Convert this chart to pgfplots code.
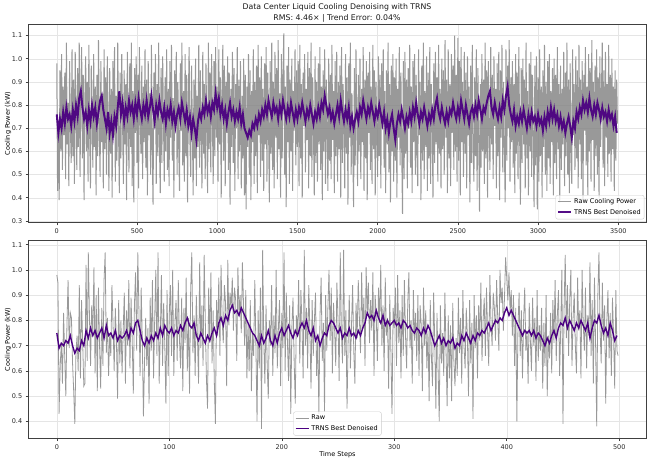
\documentclass[border=0pt]{standalone}
\usepackage{pgfplots}
\pgfplotsset{compat=1.18}
\usepackage{pgfplotstable}
\usepackage{fontspec}
\setmainfont{DejaVu Sans}
\definecolor{indigo}{HTML}{4B0082}
\definecolor{mgray}{HTML}{808080}

% top raw, every 5 steps from 0
\pgfplotstableread[header=false,row sep=\\]{
0.98\\0.43\\0.71\\0.39\\0.95\\0.60\\1.02\\0.52\\0.88\\0.67\\
0.94\\0.48\\1.07\\0.63\\0.81\\0.45\\0.99\\0.70\\0.55\\1.04\\
0.58\\0.91\\0.46\\1.03\\0.74\\0.52\\0.96\\0.62\\1.07\\0.49\\
0.86\\1.05\\0.57\\0.93\\0.39\\0.82\\1.01\\0.60\\0.90\\0.47\\
1.06\\0.68\\0.44\\0.97\\0.75\\0.53\\1.02\\0.62\\0.88\\0.41\\
0.93\\0.58\\1.08\\0.70\\0.49\\0.99\\0.64\\0.85\\0.44\\1.04\\
0.61\\0.92\\0.50\\1.01\\0.73\\0.43\\0.96\\0.59\\0.87\\0.40\\
0.99\\0.66\\1.05\\0.47\\0.84\\0.56\\1.07\\0.69\\0.42\\0.94\\
0.57\\1.02\\0.74\\0.46\\0.95\\0.63\\0.89\\0.39\\1.03\\0.70\\
0.51\\0.98\\0.62\\1.07\\0.45\\0.86\\0.38\\0.96\\0.68\\1.01\\
0.55\\0.93\\0.44\\1.05\\0.72\\0.59\\0.97\\0.48\\0.88\\0.64\\
1.04\\0.53\\0.91\\0.41\\0.99\\0.67\\0.85\\0.50\\1.06\\0.61\\
0.37\\0.94\\0.70\\1.02\\0.46\\0.89\\0.58\\1.07\\0.63\\0.42\\
0.96\\0.55\\1.01\\0.74\\0.47\\0.92\\0.60\\1.04\\0.52\\0.87\\
0.45\\0.99\\0.66\\1.06\\0.56\\0.83\\0.40\\0.95\\0.71\\1.03\\
0.50\\0.90\\0.62\\0.43\\0.98\\0.69\\1.07\\0.54\\0.86\\0.47\\
1.02\\0.58\\0.93\\0.38\\0.81\\1.05\\0.64\\0.49\\0.97\\0.72\\
0.41\\0.91\\0.57\\1.00\\0.45\\0.84\\0.62\\1.06\\0.53\\0.95\\
0.67\\0.44\\1.03\\0.59\\0.89\\0.48\\0.98\\0.70\\0.42\\1.07\\
0.61\\0.94\\0.51\\1.02\\0.75\\0.46\\0.99\\0.58\\1.05\\0.66\\
0.88\\0.47\\1.04\\0.63\\0.92\\0.40\\0.85\\1.06\\0.56\\0.97\\
0.45\\0.90\\0.68\\1.01\\0.52\\0.94\\0.37\\0.87\\0.62\\1.03\\
0.55\\0.96\\0.43\\0.89\\0.70\\1.05\\0.48\\0.91\\0.60\\0.99\\
0.44\\0.84\\0.57\\1.00\\0.41\\0.93\\0.35\\0.88\\0.62\\1.02\\
0.50\\0.95\\0.39\\0.86\\0.64\\1.04\\0.46\\0.90\\0.58\\0.97\\
0.42\\1.06\\0.67\\0.92\\0.49\\1.01\\0.56\\0.87\\0.43\\0.98\\
0.63\\1.05\\0.47\\0.94\\0.71\\0.38\\0.99\\0.59\\1.07\\0.52\\
0.90\\0.44\\1.03\\0.66\\0.96\\0.48\\1.08\\0.61\\0.85\\0.40\\
1.02\\0.57\\0.93\\1.11\\0.50\\0.88\\0.36\\0.97\\0.64\\1.05\\
0.46\\0.91\\0.60\\1.00\\0.43\\0.86\\0.69\\1.04\\0.54\\0.95\\
0.62\\0.99\\0.45\\1.06\\0.57\\0.89\\0.40\\0.94\\0.71\\1.02\\
0.51\\0.87\\0.65\\1.03\\0.44\\0.96\\0.58\\1.07\\0.49\\0.92\\
0.68\\0.41\\1.01\\0.55\\0.90\\0.47\\0.98\\0.63\\1.05\\0.52\\
0.88\\0.39\\0.95\\0.60\\1.04\\0.46\\0.91\\0.70\\0.43\\1.00\\
0.56\\0.93\\0.48\\1.06\\0.65\\0.86\\0.42\\0.99\\0.58\\1.03\\
0.47\\0.90\\0.61\\0.97\\0.40\\1.05\\0.55\\0.89\\0.69\\0.44\\
1.02\\0.59\\0.92\\0.37\\0.98\\0.66\\1.07\\0.50\\0.85\\0.62\\
0.36\\0.96\\0.54\\1.04\\0.72\\0.45\\0.93\\0.60\\1.00\\0.48\\
0.87\\0.64\\1.05\\0.43\\0.91\\0.57\\0.99\\0.39\\0.94\\0.68\\
1.03\\0.52\\0.88\\0.46\\1.06\\0.61\\0.95\\0.41\\0.90\\0.66\\
0.49\\1.01\\0.58\\0.93\\0.44\\0.98\\0.70\\1.04\\0.53\\0.86\\
0.42\\0.95\\0.63\\1.07\\0.51\\0.89\\0.38\\0.97\\0.60\\1.02\\
0.47\\0.92\\0.56\\1.00\\0.40\\0.87\\0.66\\1.05\\0.54\\0.94\\
0.61\\0.33\\0.99\\0.48\\1.03\\0.59\\0.91\\0.44\\0.96\\0.70\\
1.06\\0.53\\0.88\\0.42\\0.99\\0.64\\1.02\\0.50\\0.93\\0.58\\
0.45\\1.04\\0.67\\0.90\\0.39\\0.97\\0.56\\1.07\\0.48\\0.86\\
0.62\\1.01\\0.43\\0.94\\0.57\\1.05\\0.46\\0.89\\0.71\\0.40\\
0.98\\0.55\\1.03\\0.63\\0.92\\0.47\\1.06\\0.59\\0.87\\0.44\\
1.00\\0.61\\0.95\\0.50\\1.08\\0.66\\0.91\\0.42\\1.04\\0.57\\
0.89\\0.45\\1.02\\0.68\\0.97\\0.52\\1.10\\0.60\\0.93\\0.47\\
1.09\\0.56\\0.99\\0.41\\1.05\\0.64\\0.90\\0.49\\1.03\\0.59\\
0.94\\0.44\\1.01\\0.67\\0.88\\0.38\\0.97\\0.55\\1.06\\0.62\\
0.47\\0.92\\0.58\\1.04\\0.43\\0.96\\0.65\\0.34\\0.89\\0.53\\
1.02\\0.60\\0.91\\0.46\\1.07\\0.57\\0.95\\0.40\\0.99\\0.69\\
0.52\\1.05\\0.63\\0.93\\0.48\\1.01\\0.71\\0.87\\0.44\\0.98\\
0.58\\1.03\\0.39\\0.95\\0.66\\1.06\\0.51\\0.90\\0.62\\0.38\\
1.04\\0.56\\0.97\\0.70\\1.08\\0.47\\0.92\\0.64\\0.99\\0.53\\
0.89\\0.42\\1.02\\0.59\\0.94\\0.48\\1.05\\0.67\\0.37\\0.96\\
0.55\\1.00\\0.63\\0.91\\0.44\\1.07\\0.57\\0.86\\0.41\\0.98\\
0.60\\1.03\\0.49\\0.93\\0.66\\0.36\\0.97\\0.54\\1.01\\0.35\\
0.92\\0.47\\1.04\\0.58\\0.88\\0.40\\0.95\\0.62\\1.06\\0.50\\
0.90\\0.43\\0.99\\0.57\\1.02\\0.46\\0.86\\0.64\\0.96\\0.41\\
1.00\\0.55\\0.93\\0.48\\1.05\\0.61\\0.89\\0.38\\0.97\\0.52\\
0.87\\0.63\\1.03\\0.45\\0.94\\0.58\\1.07\\0.50\\0.91\\0.42\\
0.98\\0.60\\0.46\\1.04\\0.67\\0.89\\0.52\\1.01\\0.57\\0.95\\
0.44\\1.06\\0.63\\0.91\\0.48\\0.99\\0.39\\0.93\\0.69\\1.05\\
0.54\\0.88\\0.41\\1.02\\0.60\\0.96\\0.47\\1.08\\0.65\\0.90\\
0.43\\0.97\\0.58\\1.04\\0.50\\0.92\\0.40\\1.01\\0.62\\0.86\\
1.07\\0.53\\0.95\\0.45\\1.03\\0.66\\0.89\\0.49\\1.06\\0.59\\
0.93\\0.47\\1.00\\0.61\\0.88\\0.43\\0.95\\0.56\\0.91\\0.72\\
}\rawtop

% top denoised, every 10 steps from 0
\pgfplotstableread[header=false,row sep=\\]{
0.76\\0.68\\0.74\\0.70\\0.77\\0.72\\0.79\\0.74\\0.76\\0.71\\
0.78\\0.73\\0.80\\0.75\\0.83\\0.86\\0.79\\0.74\\0.77\\0.71\\
0.78\\0.73\\0.80\\0.75\\0.79\\0.72\\0.77\\0.82\\0.84\\0.78\\
0.74\\0.70\\0.77\\0.68\\0.73\\0.67\\0.75\\0.71\\0.79\\0.86\\
0.76\\0.81\\0.73\\0.79\\0.75\\0.82\\0.77\\0.80\\0.74\\0.81\\
0.76\\0.83\\0.78\\0.74\\0.80\\0.76\\0.82\\0.75\\0.79\\0.84\\
0.78\\0.73\\0.80\\0.76\\0.82\\0.77\\0.74\\0.79\\0.72\\0.78\\
0.75\\0.80\\0.73\\0.77\\0.71\\0.76\\0.79\\0.74\\0.81\\0.77\\
0.73\\0.78\\0.71\\0.75\\0.68\\0.74\\0.70\\0.65\\0.73\\0.77\\
0.74\\0.79\\0.76\\0.82\\0.77\\0.80\\0.75\\0.81\\0.78\\0.85\\
0.79\\0.83\\0.76\\0.80\\0.74\\0.78\\0.72\\0.77\\0.81\\0.75\\
0.78\\0.73\\0.77\\0.74\\0.79\\0.72\\0.76\\0.70\\0.68\\0.66\\
0.69\\0.67\\0.72\\0.70\\0.74\\0.71\\0.76\\0.73\\0.78\\0.75\\
0.80\\0.76\\0.82\\0.78\\0.75\\0.81\\0.77\\0.79\\0.74\\0.80\\
0.76\\0.82\\0.78\\0.74\\0.79\\0.75\\0.81\\0.77\\0.73\\0.78\\
0.74\\0.79\\0.76\\0.81\\0.77\\0.73\\0.78\\0.75\\0.80\\0.76\\
0.72\\0.77\\0.74\\0.79\\0.75\\0.81\\0.78\\0.84\\0.80\\0.76\\
0.79\\0.74\\0.77\\0.72\\0.76\\0.80\\0.75\\0.82\\0.77\\0.73\\
0.78\\0.74\\0.79\\0.71\\0.75\\0.70\\0.74\\0.77\\0.73\\0.79\\
0.76\\0.82\\0.78\\0.74\\0.79\\0.76\\0.81\\0.77\\0.73\\0.78\\
0.75\\0.80\\0.76\\0.72\\0.77\\0.70\\0.74\\0.68\\0.73\\0.76\\
0.70\\0.65\\0.72\\0.76\\0.73\\0.78\\0.74\\0.70\\0.75\\0.72\\
0.77\\0.73\\0.79\\0.75\\0.81\\0.76\\0.72\\0.77\\0.74\\0.79\\
0.75\\0.71\\0.76\\0.73\\0.78\\0.74\\0.80\\0.83\\0.77\\0.74\\
0.79\\0.75\\0.72\\0.77\\0.73\\0.78\\0.76\\0.81\\0.77\\0.74\\
0.79\\0.75\\0.82\\0.78\\0.74\\0.80\\0.76\\0.72\\0.77\\0.79\\
0.75\\0.80\\0.76\\0.82\\0.78\\0.74\\0.79\\0.77\\0.81\\0.84\\
0.86\\0.79\\0.76\\0.81\\0.77\\0.74\\0.79\\0.75\\0.82\\0.78\\
0.84\\0.88\\0.80\\0.76\\0.73\\0.78\\0.71\\0.75\\0.72\\0.77\\
0.73\\0.78\\0.74\\0.70\\0.76\\0.72\\0.77\\0.73\\0.75\\0.71\\
0.76\\0.72\\0.74\\0.69\\0.75\\0.71\\0.77\\0.73\\0.79\\0.74\\
0.78\\0.73\\0.76\\0.71\\0.75\\0.70\\0.73\\0.68\\0.72\\0.75\\
0.71\\0.66\\0.73\\0.70\\0.77\\0.74\\0.79\\0.76\\0.82\\0.78\\
0.81\\0.77\\0.83\\0.78\\0.75\\0.80\\0.76\\0.81\\0.78\\0.74\\
0.79\\0.75\\0.77\\0.73\\0.78\\0.74\\0.76\\0.71\\0.75\\0.68\\
}\dentop

% bottom raw, every step from 0
\pgfplotstableread[header=false,row sep=\\]{
0.98\\0.95\\0.43\\0.62\\0.71\\0.55\\0.83\\0.66\\0.50\\0.78\\
0.96\\0.69\\0.83\\0.81\\0.63\\0.52\\0.39\\0.67\\0.74\\0.60\\
0.94\\0.57\\0.88\\0.71\\0.54\\0.55\\1.02\\0.64\\1.07\\0.82\\
0.62\\0.86\\0.74\\1.01\\0.59\\0.90\\0.52\\0.93\\0.70\\0.53\\
0.85\\0.62\\0.96\\1.07\\0.67\\0.81\\0.58\\0.74\\0.66\\0.94\\
0.78\\0.60\\0.85\\0.72\\0.49\\0.88\\0.63\\0.80\\0.59\\0.76\\
0.91\\0.55\\0.84\\0.70\\0.96\\0.61\\0.89\\0.73\\0.51\\0.86\\
0.99\\0.68\\1.07\\0.84\\0.58\\0.93\\0.72\\0.42\\0.64\\0.81\\
0.62\\0.77\\0.47\\0.89\\0.68\\0.96\\0.57\\0.80\\1.00\\0.66\\
1.07\\0.55\\0.74\\0.98\\0.62\\0.87\\0.70\\0.47\\0.92\\0.58\\
0.83\\0.94\\0.66\\1.00\\0.58\\0.79\\0.88\\0.64\\0.96\\0.73\\
0.61\\0.89\\0.52\\0.85\\0.71\\0.97\\0.60\\0.81\\0.51\\0.92\\
1.07\\0.67\\0.82\\0.58\\0.90\\0.74\\0.55\\1.03\\0.69\\0.86\\
0.62\\1.06\\0.80\\0.57\\0.45\\0.93\\0.71\\0.99\\0.63\\0.84\\
0.56\\0.39\\0.88\\0.74\\0.97\\0.66\\1.02\\0.80\\0.71\\0.94\\
0.87\\0.54\\1.04\\0.78\\0.91\\0.85\\0.97\\0.76\\0.93\\0.88\\
0.64\\1.01\\0.82\\0.90\\0.75\\1.03\\0.86\\0.70\\0.92\\0.57\\
0.79\\0.60\\0.88\\0.52\\0.75\\0.66\\0.96\\0.70\\0.40\\0.84\\
0.61\\0.93\\0.37\\1.08\\0.72\\0.55\\0.86\\0.63\\0.49\\0.80\\
0.70\\0.94\\0.58\\0.82\\0.67\\1.00\\0.61\\0.77\\0.88\\0.54\\
0.83\\0.69\\1.07\\0.60\\0.91\\0.72\\0.56\\0.86\\0.43\\0.78\\
0.89\\0.64\\0.47\\0.82\\0.74\\0.96\\0.63\\0.92\\0.78\\0.57\\
1.08\\0.70\\0.85\\0.61\\0.94\\0.76\\0.53\\0.88\\0.66\\0.80\\
0.91\\0.58\\0.73\\0.43\\0.82\\0.97\\0.64\\0.79\\0.44\\0.90\\
0.68\\0.85\\1.00\\0.72\\0.93\\0.59\\0.87\\0.76\\0.62\\0.95\\
0.80\\0.56\\1.07\\0.75\\0.63\\1.08\\0.66\\0.84\\0.45\\0.72\\
0.90\\0.61\\0.78\\0.94\\0.68\\0.55\\0.87\\0.73\\0.96\\0.81\\
0.67\\0.99\\0.77\\0.89\\0.62\\1.01\\0.83\\0.95\\0.71\\0.88\\
0.76\\0.99\\0.58\\0.90\\0.82\\0.64\\0.93\\0.79\\1.02\\0.70\\
0.86\\0.60\\0.97\\0.74\\0.81\\0.53\\0.90\\0.68\\0.43\\0.85\\
0.77\\0.93\\0.62\\0.98\\0.71\\0.84\\0.57\\0.90\\0.66\\0.96\\
0.74\\0.61\\0.87\\0.99\\0.69\\0.80\\0.55\\0.92\\0.72\\0.83\\
0.64\\0.90\\0.58\\0.86\\0.78\\0.52\\0.93\\0.70\\0.84\\0.61\\
0.76\\0.48\\0.88\\0.66\\0.54\\0.91\\0.72\\0.45\\0.83\\0.60\\
0.40\\0.86\\0.63\\0.75\\0.58\\0.91\\0.69\\0.46\\0.82\\0.57\\
0.78\\0.48\\0.87\\0.64\\0.54\\0.73\\0.58\\0.89\\0.67\\0.81\\
0.55\\0.92\\0.70\\0.61\\0.85\\0.74\\0.50\\0.88\\0.63\\0.79\\
0.41\\0.90\\0.69\\0.82\\0.57\\0.86\\0.72\\0.95\\0.64\\0.80\\
0.89\\0.66\\0.93\\0.75\\0.62\\0.98\\0.79\\0.70\\0.91\\0.85\\
0.72\\0.96\\0.81\\0.68\\1.00\\0.87\\0.93\\0.76\\0.89\\1.05\\
0.97\\0.88\\0.99\\0.83\\0.92\\0.74\\0.90\\0.62\\0.85\\0.40\\
0.78\\0.91\\0.66\\0.84\\0.57\\0.80\\0.93\\0.68\\0.76\\0.55\\
0.87\\0.72\\0.60\\0.89\\0.70\\0.81\\0.56\\0.92\\0.64\\0.78\\
0.68\\0.85\\0.53\\0.79\\0.62\\0.90\\0.50\\0.74\\0.65\\0.83\\
0.59\\0.88\\0.71\\0.96\\0.64\\0.82\\0.92\\0.58\\0.77\\1.00\\
0.39\\0.85\\1.06\\0.73\\0.94\\0.66\\0.88\\1.00\\0.62\\0.81\\
0.91\\0.70\\0.59\\0.97\\0.76\\0.84\\0.57\\1.00\\0.79\\0.68\\
0.93\\0.61\\0.82\\0.74\\1.03\\0.66\\0.88\\0.55\\0.97\\0.71\\
0.38\\0.90\\1.07\\0.76\\0.63\\0.95\\0.72\\0.86\\0.47\\0.80\\
0.92\\0.65\\0.83\\0.58\\0.89\\0.74\\0.53\\0.92\\0.68\\0.66\\
}\rawbot

% bottom denoised, every 2 steps from 0
\pgfplotstableread[header=false,row sep=\\]{
0.75\\0.69\\0.71\\0.70\\0.72\\0.71\\0.74\\0.70\\0.67\\0.69\\
0.68\\0.72\\0.70\\0.76\\0.73\\0.77\\0.74\\0.76\\0.73\\0.75\\
0.77\\0.73\\0.78\\0.74\\0.75\\0.73\\0.76\\0.72\\0.74\\0.73\\
0.74\\0.76\\0.73\\0.77\\0.75\\0.79\\0.80\\0.76\\0.72\\0.70\\
0.73\\0.71\\0.74\\0.72\\0.75\\0.73\\0.77\\0.74\\0.78\\0.76\\
0.75\\0.77\\0.74\\0.76\\0.75\\0.78\\0.76\\0.79\\0.81\\0.78\\
0.77\\0.79\\0.74\\0.72\\0.75\\0.73\\0.71\\0.74\\0.72\\0.75\\
0.77\\0.74\\0.79\\0.81\\0.78\\0.82\\0.80\\0.84\\0.86\\0.83\\
0.84\\0.82\\0.85\\0.83\\0.81\\0.79\\0.77\\0.75\\0.74\\0.72\\
0.70\\0.74\\0.71\\0.73\\0.76\\0.72\\0.70\\0.74\\0.71\\0.75\\
0.77\\0.74\\0.76\\0.78\\0.75\\0.73\\0.76\\0.74\\0.77\\0.79\\
0.77\\0.80\\0.76\\0.74\\0.77\\0.72\\0.74\\0.70\\0.73\\0.75\\
0.74\\0.78\\0.80\\0.79\\0.77\\0.75\\0.77\\0.73\\0.75\\0.74\\
0.77\\0.74\\0.75\\0.73\\0.76\\0.74\\0.77\\0.79\\0.83\\0.81\\
0.82\\0.80\\0.84\\0.81\\0.79\\0.82\\0.78\\0.80\\0.78\\0.79\\
0.80\\0.78\\0.79\\0.77\\0.80\\0.79\\0.77\\0.78\\0.76\\0.75\\
0.77\\0.76\\0.74\\0.77\\0.75\\0.78\\0.76\\0.73\\0.70\\0.72\\
0.74\\0.71\\0.73\\0.70\\0.72\\0.71\\0.73\\0.69\\0.71\\0.70\\
0.74\\0.72\\0.75\\0.73\\0.71\\0.74\\0.72\\0.75\\0.74\\0.76\\
0.75\\0.77\\0.79\\0.76\\0.78\\0.80\\0.79\\0.81\\0.80\\0.83\\
0.85\\0.82\\0.84\\0.82\\0.80\\0.78\\0.76\\0.74\\0.76\\0.75\\
0.76\\0.74\\0.76\\0.73\\0.75\\0.74\\0.72\\0.70\\0.73\\0.71\\
0.74\\0.76\\0.73\\0.77\\0.79\\0.78\\0.81\\0.77\\0.80\\0.78\\
0.76\\0.79\\0.77\\0.80\\0.78\\0.76\\0.79\\0.73\\0.77\\0.80\\
0.79\\0.82\\0.78\\0.75\\0.77\\0.74\\0.79\\0.76\\0.72\\0.74\\
}\denbot

\pgfplotsset{
  myax/.style={
    scale only axis, width=617.5pt,
    axis line style={black!75, line width=0.6pt},
    tick align=outside, tick pos=left,
    major tick length=3pt,
    tick style={black!75, line width=0.5pt},
    grid=major, grid style={black!10, line width=0.4pt},
    ticklabel style={font=\fontsize{6.5}{7}\selectfont, text=black!85},
    /pgf/number format/assume math mode=true,
    y tick label style={/pgf/number format/.cd, fixed, fixed zerofill, precision=1},
    x tick label style={/pgf/number format/1000 sep={}},
    every axis y label/.style={at={(axis description cs:-0.0335,0.5)}, rotate=90, anchor=center, font=\fontsize{6.5}{7}\selectfont},
    every axis x label/.style={at={(axis description cs:0.5,-0.086)}, anchor=center, font=\fontsize{6.5}{7}\selectfont},
    legend cell align=left,
    legend style={font=\fontsize{6.5}{8}\selectfont, draw=black!20, rounded corners=2pt, fill=white, fill opacity=0.8, text opacity=1, inner sep=1.5pt},
    legend image code/.code={\draw[#1] (0pt,0pt) -- (13pt,0pt);},
  }
}

\begin{document}
\begin{tikzpicture}
\useasboundingbox (0pt,0pt) rectangle (650pt,463pt);
\node[align=center, font=\fontsize{7.8}{11}\selectfont, text=black!90] at (337pt,450pt) {Data Center Liquid Cooling Denoising with TRNS\\RMS: 4.46× | Trend Error: 0.04\%};

\begin{axis}[myax, at={(28.7pt,240.7pt)}, anchor=south west,
  height=197.6pt,
  xmin=-175, xmax=3674, ymin=0.294, ymax=1.147,
  xtick={0,500,1000,1500,2000,2500,3000,3500},
  ytick={0.3,0.4,0.5,0.6,0.7,0.8,0.9,1.0,1.1},
  ylabel={Cooling Power (kW)},
  legend style={at={(0.997,0.015)}, anchor=south east},
]
\addplot[mgray, opacity=0.8, line width=1.0pt] table[x expr=\coordindex*5, y index=0] {\rawtop};
\addlegendentry{Raw Cooling Power}
\addplot[indigo, opacity=0.95, line width=2pt] table[x expr=\coordindex*10, y index=0] {\dentop};
\addlegendentry{TRNS Best Denoised}
\end{axis}

\begin{axis}[myax, at={(28.7pt,25pt)}, anchor=south west,
  height=197.3pt,
  xmin=-25, xmax=524, ymin=0.334, ymax=1.116,
  xtick={0,100,200,300,400,500},
  ytick={0.4,0.5,0.6,0.7,0.8,0.9,1.0,1.1},
  ylabel={Cooling Power (kW)},
  xlabel={Time Steps},
  legend style={at={(0.5,0.012)}, anchor=south},
]
\addplot[mgray, opacity=0.8, line width=0.8pt] table[x expr=\coordindex, y index=0] {\rawbot};
\addlegendentry{Raw}
\addplot[indigo, line width=1.4pt] table[x expr=\coordindex*2, y index=0] {\denbot};
\addlegendentry{TRNS Best Denoised}
\end{axis}
\end{tikzpicture}
\end{document}
